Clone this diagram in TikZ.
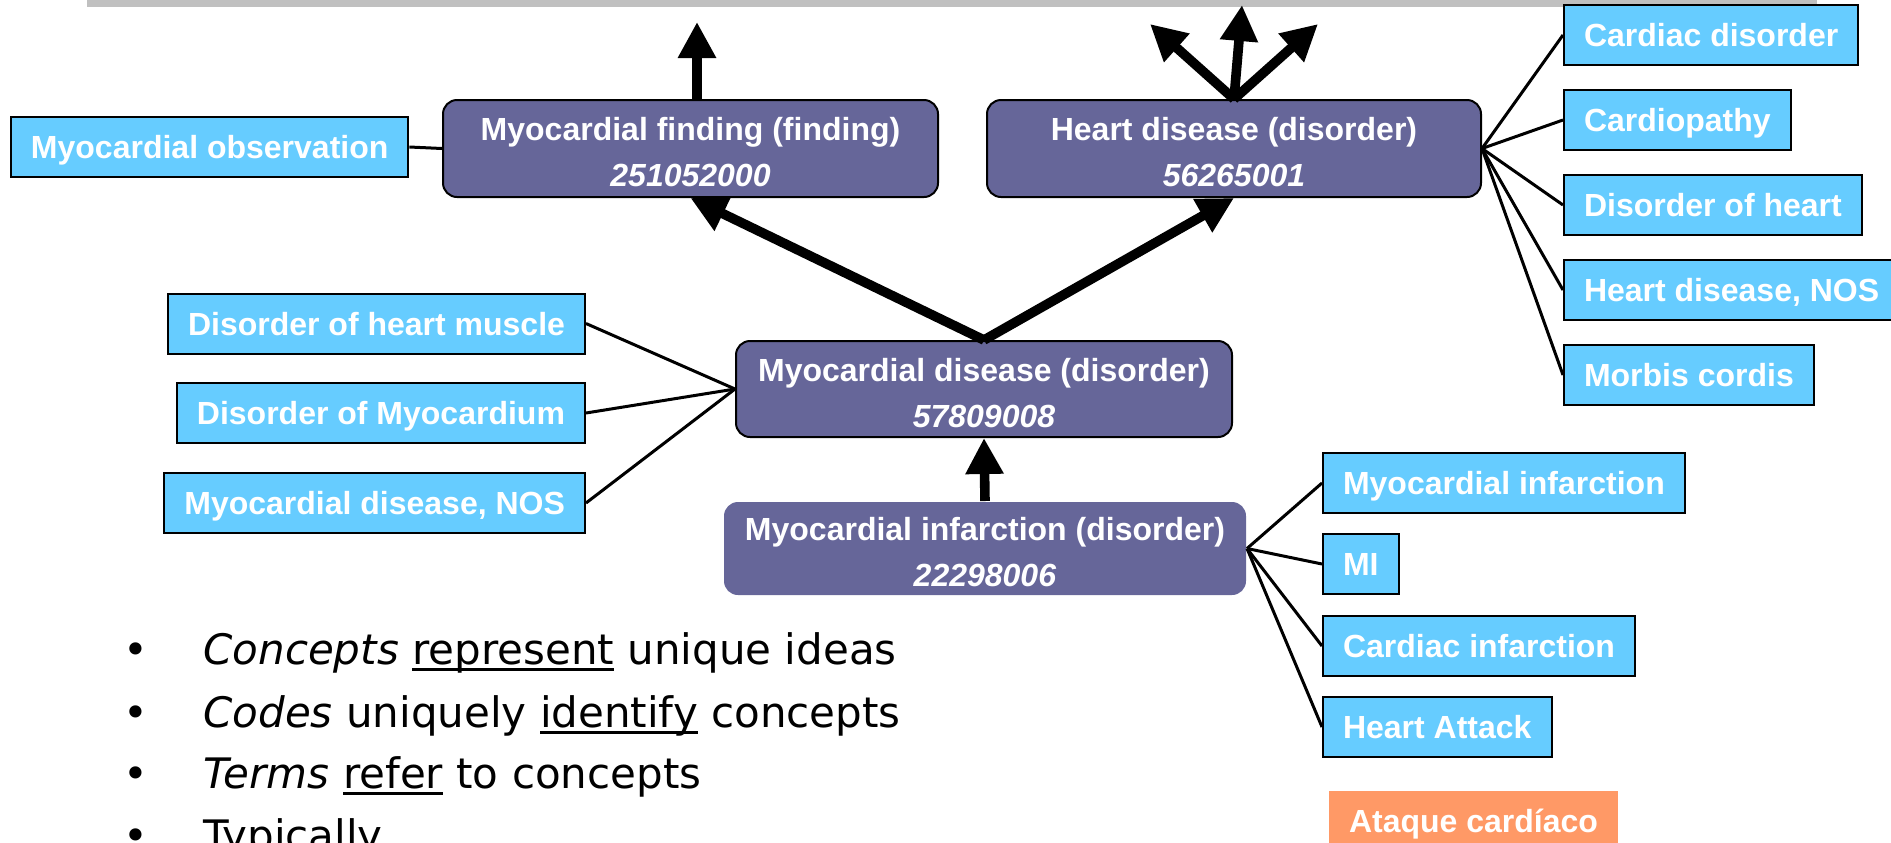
\documentclass[tikz,border=0pt]{standalone}
\usepackage{fontspec}
\setmainfont{Liberation Sans}
\newfontfamily\bodyfont{DejaVu Sans}
\usetikzlibrary{arrows.meta,positioning,calc}
\definecolor{conceptfill}{HTML}{666699}
\definecolor{termfill}{HTML}{66CCFF}
\definecolor{transfill}{HTML}{FF9966}
\definecolor{barfill}{HTML}{C0C0C0}
\newcommand{\ulword}[1]{\leavevmode\setbox0\hbox{#1}\rlap{\rule[-3.5pt]{\wd0}{1.5pt}}\box0\relax}
\tikzset{
    concept/.style={rectangle,rounded corners=7pt,draw,line width=1pt,fill=conceptfill,text=white,align=center,inner sep=0pt,text height=38pt,text depth=0pt,font=\bfseries\fontsize{16}{23}\selectfont},
    term/.style={rectangle,draw,line width=1pt,fill=termfill,text=white,inner xsep=10pt,inner ysep=0pt,minimum height=30pt,text height=11.6pt,text depth=0pt,font=\bfseries\fontsize{16}{19}\selectfont},
    bullet/.style={anchor=base west,inner sep=0pt,font=\bodyfont\fontsize{21}{25}\selectfont},
}

\begin{document}
\begin{tikzpicture}[x=0.5pt,y=-0.5pt,>={Triangle[width=18pt,length=18pt]},isa/.style={->,line width=4.8pt},syn/.style={line width=1.5pt}]
        \useasboundingbox (0,0) rectangle (1891,842);
        \fill[barfill] (87,0) rectangle (1817,7);

        % concepts
        \node[concept,minimum width=247.5pt,minimum height=48.5pt] (mf) at (690.5,148.5) {Myocardial finding (finding)\\\textit{251052000}};
        \node[concept,minimum width=247pt,minimum height=48.5pt] (hd) at (1234,148.5) {Heart disease (disorder)\\\textit{56265001}};
        \node[concept,minimum width=248pt,minimum height=48pt] (md) at (984,389) {Myocardial disease (disorder)\\\textit{57809008}};
        \node[concept,draw=none,minimum width=261pt,minimum height=46.5pt] (mi) at (985,548.5) {Myocardial infarction (disorder)\\\textit{22298006}};

        % terms
        \node[term,anchor=west] (mo) at (10,147) {Myocardial observation};
        \node[term,anchor=east] (md1) at (586,323.5) {Disorder of heart muscle};
        \node[term,anchor=east] (md2) at (586,413) {Disorder of Myocardium};
        \node[term,anchor=east] (md3) at (586,503) {Myocardial disease, NOS};
        \node[term,anchor=west] (hd1) at (1563,35) {Cardiac disorder};
        \node[term,anchor=west] (hd2) at (1563,120) {Cardiopathy};
        \node[term,anchor=west] (hd3) at (1563,205) {Disorder of heart};
        \node[term,anchor=west] (hd4) at (1563,290) {Heart disease, NOS};
        \node[term,anchor=west] (hd5) at (1563,375) {Morbis cordis};
        \node[term,anchor=west] (mi1) at (1322,483) {Myocardial infarction};
        \node[term,anchor=west] (mi2) at (1322,564) {MI};
        \node[term,anchor=west] (mi3) at (1322,646) {Cardiac infarction};
        \node[term,anchor=west] (mi4) at (1322,727) {Heart Attack};
        \node[term,draw=none,fill=transfill,anchor=north west] (es1) at (1328,790) {Ataque cardíaco};

        % free ends of the is-a arrows
        \coordinate (mfup) at (697,22);
        \coordinate (hdl) at (1150,24);
        \coordinate (hdm) at (1242,5);
        \coordinate (hdr) at (1318,24);

        \draw[isa] (mfup |- mf.north) -- (mfup);
        \draw[isa] (hd.north) -- (hdl);
        \draw[isa] (hd.north) -- (hdm);
        \draw[isa] (hd.north) -- (hdr);
        \draw[isa] (md.north) -- (mf.south);
        \draw[isa] (md.north) -- (hd.south);
        \draw[isa] (mi.north) -- (md.south);

        \path[syn]
            (mo.east) edge (mf.west)
            (md1.east) edge (md.west)
            (md2.east) edge (md.west)
            (md3.east) edge (md.west)
            (hd.east) edge (hd1.west)
            (hd.east) edge (hd2.west)
            (hd.east) edge (hd3.west)
            (hd.east) edge (hd4.west)
            (hd.east) edge (hd5.west)
            (mi.east) edge (mi1.west)
            (mi.east) edge (mi2.west)
            (mi.east) edge (mi3.west)
            (mi.east) edge (mi4.west)
            ;

        % bullet list
        \node[bullet] (b1) at (123,664) {•};
        \node[bullet] (t1) at (203,664) {\textit{Concepts} \ulword{represent} unique ideas};
        \node[bullet] (b2) at (123,727) {•};
        \node[bullet] (t2) at (203,727) {\textit{Codes} uniquely \ulword{identify} concepts};
        \node[bullet] (b3) at (123,788) {•};
        \node[bullet] (t3) at (203,788) {\textit{Terms} \ulword{refer} to concepts};
        \node[bullet] (b4) at (123,850) {•};
        \node[bullet] (t4) at (203,850) {Typically};
\end{tikzpicture}
\end{document}
